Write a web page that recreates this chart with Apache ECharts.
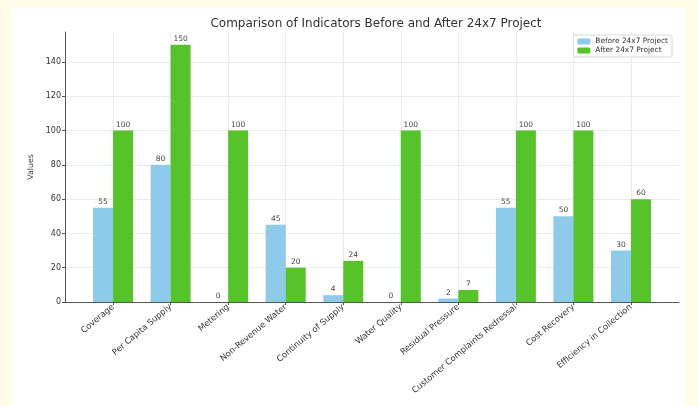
<!DOCTYPE html>
<html>
<head>
<meta charset="utf-8">
<script src="https://cdn.jsdelivr.net/npm/echarts@6/dist/echarts.min.js"></script>
<style>
  html, body { margin:0; padding:0; background:#FFFDE8; }
  #paper { position:absolute; left:10px; top:8px; width:676px; height:398px; background:#ffffff; }
  #chart { position:absolute; left:0; top:0; width:698px; height:406px; }
</style>
</head>
<body>
<div id="paper"></div>
<div id="chart"></div>
<script>
const categories = ['Coverage','Per Capita Supply','Metering','Non-Revenue Water','Continuity of Supply','Water Quality','Residual Pressure','Customer Complaints Redressal','Cost Recovery','Efficiency in Collection'];
const beforeValues = [55, 80, 0, 45, 4, 0, 2, 55, 50, 30];
const afterValues = [100, 150, 100, 20, 24, 100, 7, 100, 100, 60];
const yTicks = [0, 20, 40, 60, 80, 100, 120, 140];
const seriesNames = ['Before 24x7 Project', 'After 24x7 Project'];

const catIdx = categories.map((c, i) => i);
const font = 'DejaVu Sans';
const gridColor = '#ebebeb';

const chart = echarts.init(document.getElementById('chart'), null, {renderer:'canvas'});
const barLabel = {show:true, position:'top', distance:2, fontSize:7.5, fontFamily:font, color:'#444'};
chart.setOption({
  animation:false,
  backgroundColor:'transparent',
  title:{text:'Comparison of Indicators Before and After 24x7 Project', left:371, top:13, textAlign:'center',
    textStyle:{fontFamily:font, fontSize:12, fontWeight:'normal', color:'#333'}},
  legend:{data:seriesNames, orient:'vertical', right:26, top:35, itemWidth:13, itemHeight:6, itemGap:2,
    padding:[3,4,3,4], borderColor:'#d8d8d8', borderWidth:1, backgroundColor:'#fff', borderRadius:2,
    textStyle:{fontFamily:font, fontSize:7.4, color:'#333'}},
  grid:{left:65, right:19, top:32, bottom:104, containLabel:false},
  xAxis:{type:'value', min:-0.835, max:9.835,
    axisLine:{show:true, onZero:false, lineStyle:{color:'#555', width:1}},
    axisTick:{show:true, customValues:catIdx, length:3, lineStyle:{color:'#555'}},
    axisLabel:{customValues:catIdx, rotate:40, margin:4, fontFamily:font, fontSize:8.4, color:'#333',
      formatter:(v)=>categories[Math.round(v)]},
    splitLine:{show:false}},
  yAxis:{type:'value', min:0, max:157.5, name:'Values', nameLocation:'middle', nameGap:27,
    nameTextStyle:{fontFamily:font, fontSize:7.8, color:'#333'},
    axisLine:{show:true, onZero:false, lineStyle:{color:'#555', width:1}},
    axisTick:{show:true, customValues:yTicks, length:3, lineStyle:{color:'#555'}},
    axisLabel:{customValues:yTicks, margin:4, fontFamily:font, fontSize:8, color:'#333'},
    splitLine:{show:false}},
  series:[
    {type:'line', data:[], z:0, silent:true,
      markLine:{silent:true, z:0, symbol:'none', label:{show:false}, animation:false,
        lineStyle:{color:gridColor, width:1, type:'solid'},
        data:[...catIdx.map(i=>({xAxis:i})), ...yTicks.filter(t=>t>0).map(t=>({yAxis:t}))]}},
    {name:seriesNames[0], type:'bar', z:3, barWidth:20, barGap:'0%',
      itemStyle:{color:'#8ECBEA'}, label:barLabel,
      data:beforeValues.map((v,i)=>[i, v])},
    {name:seriesNames[1], type:'bar', z:3, barWidth:20, barGap:'0%',
      itemStyle:{color:'#56C32B'}, label:barLabel,
      data:afterValues.map((v,i)=>[i, v])}
  ]
});
</script>
</body>
</html>
